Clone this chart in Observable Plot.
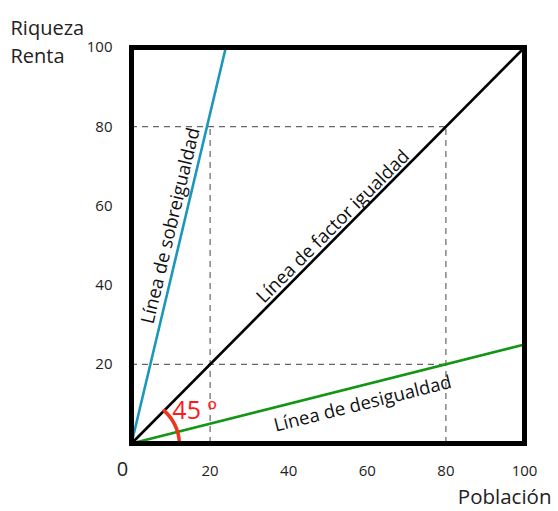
<!DOCTYPE html>
<html>
<head>
<meta charset="utf-8">
<script src="https://cdn.jsdelivr.net/npm/d3@7"></script>
<script src="https://cdn.jsdelivr.net/npm/@observablehq/plot@0.6"></script>
<style>
  html, body { margin: 0; padding: 0; background: #fff; }
  svg { display: block; }
</style>
</head>
<body>
<div id="chart"></div>
<script>
// Tick values for both axes
const xTicks = [20, 40, 60, 80, 100];
const yTicks = [20, 40, 60, 80, 100];

// Lines from the origin (end points)
const lineNames = ["Línea de factor igualdad", "Línea de sobreigualdad", "Línea de desigualdad"];
const lineEndX = [100, 24, 100];
const lineEndY = [100, 100, 25];
const lineColors = ["#000000", "#1a97bb", "#149614"];

// Label positions (centre, data units) and rotation
const labelX = [51.3, 10.0, 58.8];
const labelY = [54.8, 55.0, 10.0];
const labelRotate = [-45, -76.6, -14];

// Dashed guide lines
const hDashY = [80, 20];
const hDashX1 = [0, 0];
const hDashX2 = [80, 80];
const vDashX = [20, 80];
const vDashY1 = [0, 0];
const vDashY2 = [80, 80];

// 45 degree arc end points and label
const arcStart = [8.3, 8.3];
const arcEnd = [12.2, 0];
const angleLabel = "45 º";
const angleLabelPos = [10.4, 6.1];

const lines = lineNames.map((n, i) => ({name: n, x2: lineEndX[i], y2: lineEndY[i], color: lineColors[i], lx: labelX[i], ly: labelY[i], rot: labelRotate[i]}));
const hDash = hDashY.map((y, i) => ({y, x1: hDashX1[i], x2: hDashX2[i]}));
const vDash = vDashX.map((x, i) => ({x, y1: vDashY1[i], y2: vDashY2[i]}));

const font = "'Open Sans', 'Noto Sans', sans-serif";

const chart = Plot.plot({
  width: 558,
  height: 511,
  marginLeft: 131,
  marginRight: 34,
  marginTop: 47,
  marginBottom: 68,
  style: {fontFamily: font, fontSize: "15px", color: "#222", background: "#fff"},
  x: {domain: [0, 100], ticks: xTicks, tickSize: 0, tickPadding: 22, label: null},
  y: {domain: [0, 100], ticks: yTicks, tickSize: 0, tickPadding: 19, label: null},
  marks: [
    Plot.ruleY(hDash, {y: "y", x1: "x1", x2: "x2", stroke: "#666", strokeWidth: 1.2, strokeDasharray: "6,5"}),
    Plot.ruleX(vDash, {x: "x", y1: "y1", y2: "y2", stroke: "#666", strokeWidth: 1.2, strokeDasharray: "6,5"}),
    Plot.link(lines, {x1: () => 0, y1: () => 0, x2: "x2", y2: "y2", stroke: "color", strokeWidth: 2.6}),
    Plot.arrow([{x1: arcStart[0], y1: arcStart[1], x2: arcEnd[0], y2: arcEnd[1]}], {x1: "x1", y1: "y1", x2: "x2", y2: "y2", bend: 22.5, headLength: 0, stroke: "#f0341c", strokeWidth: 3.5}),
    Plot.text([angleLabel], {x: () => angleLabelPos[0], y: () => angleLabelPos[1], text: d => d, fill: "#ff1a1a", fontSize: 25, textAnchor: "start", lineAnchor: "bottom"}),
    ...lines.map(d => Plot.text([d], {x: "lx", y: "ly", text: "name", rotate: d.rot, fontSize: 18.5, fill: "#111"})),
    Plot.text(["0"], {x: () => 0, y: () => 0, text: d => d, fontSize: 20, dx: -9, dy: 26, fill: "#222"}),
    Plot.text(["Riqueza\nRenta"], {frameAnchor: "top-left", text: d => d, fontSize: 20, textAnchor: "start", lineAnchor: "top", lineHeight: 1.4, dx: -121, dy: -32, fill: "#222"}),
    Plot.text(["Población"], {frameAnchor: "bottom-right", text: d => d, fontSize: 20.5, textAnchor: "end", lineAnchor: "middle", dx: 27, dy: 54, fill: "#222"}),
    Plot.frame({stroke: "#000", strokeWidth: 5})
  ]
});
document.getElementById("chart").appendChild(chart);
</script>
</body>
</html>
